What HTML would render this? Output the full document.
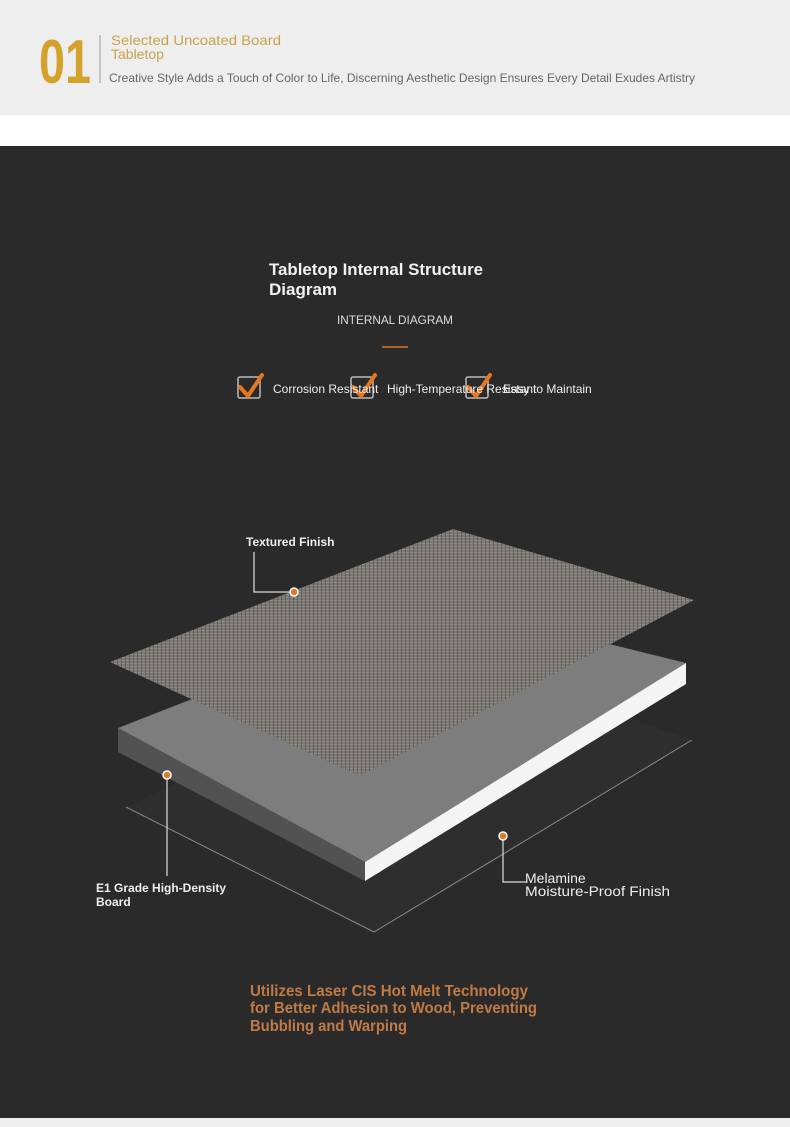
<!DOCTYPE html>
<html><head><meta charset="utf-8"><style>
html,body{margin:0;padding:0;width:790px;height:1127px;overflow:hidden;background:#fff;font-family:"Liberation Sans",sans-serif}
</style></head><body>
<svg width="790" height="1127" viewBox="0 0 790 1127" xmlns="http://www.w3.org/2000/svg" style="display:block">
<defs>
<pattern id="tx" width="4" height="3" patternUnits="userSpaceOnUse">
<rect width="4" height="3" fill="#7a7672"/>
<rect x="0" y="0" width="4" height="1" fill="#8f8b87"/>
<rect x="1" y="0" width="1" height="3" fill="#65615e"/>
</pattern>
</defs>
<rect x="0" y="0" width="790" height="115" fill="#eeeeee"/>
<rect x="0" y="115" width="790" height="31" fill="#ffffff"/>
<rect x="0" y="146" width="790" height="972" fill="#2a2a2a"/>
<rect x="0" y="1118" width="790" height="9" fill="#eeeeee"/>

<text x="39" y="83" font-family="Liberation Sans Narrow, Liberation Sans, sans-serif" font-size="62" font-weight="bold" fill="#d4a22a" textLength="52" lengthAdjust="spacingAndGlyphs">01</text>
<line x1="100" y1="35" x2="100" y2="83" stroke="#999" stroke-width="1"/>
<text x="111" y="45" font-size="14" fill="#c9a24a" textLength="170" lengthAdjust="spacingAndGlyphs">Selected Uncoated Board</text>
<text x="111" y="59" font-size="14" fill="#c9a24a">Tabletop</text>
<text x="109" y="82" font-size="12" fill="#666" textLength="586" lengthAdjust="spacingAndGlyphs">Creative Style Adds a Touch of Color to Life, Discerning Aesthetic Design Ensures Every Detail Exudes Artistry</text>

<text x="269" y="275" font-size="17" font-weight="bold" fill="#f2f2f2" textLength="214" lengthAdjust="spacingAndGlyphs">Tabletop Internal Structure</text>
<text x="269" y="295" font-size="17" font-weight="bold" fill="#f2f2f2">Diagram</text>
<text x="337" y="324" font-size="12" fill="#ddd" textLength="116" lengthAdjust="spacingAndGlyphs">INTERNAL DIAGRAM</text>
<line x1="382" y1="347" x2="408" y2="347" stroke="#d87a2a" stroke-width="1.5"/>

<g stroke="#bbb" stroke-width="1.5" fill="none">
<rect x="238" y="377" width="22" height="21" rx="2"/>
<rect x="351" y="377" width="22" height="21" rx="2"/>
<rect x="466" y="377" width="22" height="21" rx="2"/>
</g>
<g stroke="#e8761e" stroke-width="4" fill="none" stroke-linecap="round" stroke-linejoin="round">
<path d="M240 387 L248 396 L262 375"/>
<path d="M353 387 L361 396 L375 375"/>
<path d="M468 387 L476 396 L490 375"/>
</g>
<text x="273" y="393" font-size="12" fill="#eee">Corrosion Resistant</text>
<text x="387" y="393" font-size="12" fill="#eee">High-Temperature Resistant</text>
<text x="503" y="393" font-size="12" fill="#eee">Easy to Maintain</text>

<polygon points="126,807 450,655 692,740 374,932" fill="#2e2e2e"/>
<polyline points="126,807 374,932 692,740" fill="none" stroke="#8a8a8a" stroke-width="1"/>
<polygon points="118,728 440,602 686,663 365,862" fill="#7d7d7d"/>
<polygon points="118,728 365,862 365,881 118,752" fill="#525252"/>
<polygon points="365,862 686,663 686,684 365,881" fill="#f4f4f4"/>
<polygon points="110,662 453,529 694,600 360,776" fill="url(#tx)"/>

<g stroke="#ddd" stroke-width="1.2" fill="none">
<polyline points="294,592 254,592 254,552"/>
<line x1="167" y1="778" x2="167" y2="876"/>
<polyline points="503,838 503,882 526,882"/>
</g>
<g fill="#e07a20" stroke="#fff" stroke-width="1.5">
<circle cx="294" cy="592" r="4"/>
<circle cx="167" cy="775" r="4"/>
<circle cx="503" cy="836" r="4"/>
</g>
<text x="246" y="546" font-size="12" font-weight="bold" fill="#eee">Textured Finish</text>
<text x="96" y="892" font-size="12" font-weight="bold" fill="#eee">E1 Grade High-Density</text>
<text x="96" y="906" font-size="12" font-weight="bold" fill="#eee">Board</text>
<text x="525" y="883" font-size="14" fill="#eee">Melamine</text>
<text x="525" y="896" font-size="14" fill="#eee" textLength="145" lengthAdjust="spacingAndGlyphs">Moisture-Proof Finish</text>

<g font-size="16" font-weight="bold" fill="#c07a45">
<text x="250" y="996" textLength="278" lengthAdjust="spacingAndGlyphs">Utilizes Laser CIS Hot Melt Technology</text>
<text x="250" y="1013" textLength="287" lengthAdjust="spacingAndGlyphs">for Better Adhesion to Wood, Preventing</text>
<text x="250" y="1031" textLength="157" lengthAdjust="spacingAndGlyphs">Bubbling and Warping</text>
</g>
</svg>
</body></html>
